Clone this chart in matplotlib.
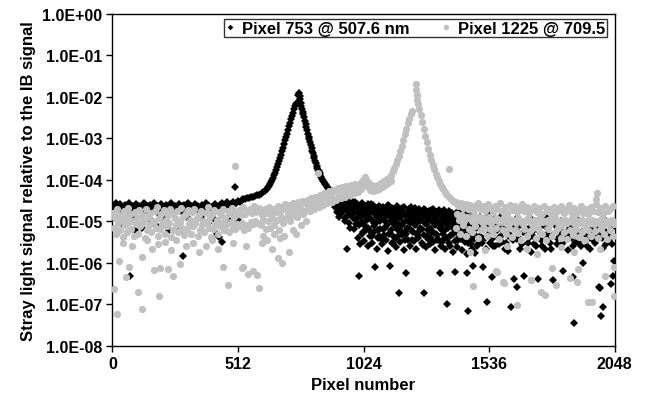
import numpy as np
import matplotlib
matplotlib.use('Agg')
import matplotlib.pyplot as plt
from matplotlib.ticker import FixedLocator, FuncFormatter

plt.rcParams['font.family'] = ['Liberation Sans', 'DejaVu Sans']
plt.rcParams['font.weight'] = 'bold'

# ---- Pixel 753 @ 507.6 nm (black diamonds): (pixel, signal)
black_base = [
    (0, 2.4e-5), (6, 2.0e-5), (13, 2.7e-5), (19, 1.9e-5), (26, 2.3e-5), (33, 2.6e-5), (40, 1.8e-5),
    (47, 2.2e-5), (53, 2.5e-5), (60, 2.0e-5), (67, 2.8e-5), (74, 1.9e-5), (81, 2.3e-5), (88, 2.1e-5),
    (95, 2.6e-5), (102, 1.8e-5), (110, 2.4e-5), (117, 2.2e-5), (124, 2.0e-5), (131, 2.7e-5), (139, 1.9e-5),
    (146, 2.3e-5), (153, 2.5e-5), (160, 2.1e-5), (168, 2.8e-5), (175, 2.0e-5), (182, 2.4e-5), (190, 1.8e-5),
    (197, 2.6e-5), (204, 2.2e-5), (212, 2.0e-5), (219, 2.5e-5), (226, 2.3e-5), (234, 1.9e-5), (241, 2.7e-5),
    (248, 2.1e-5), (256, 2.4e-5), (263, 2.0e-5), (270, 2.6e-5), (278, 1.8e-5), (285, 2.3e-5), (292, 2.5e-5),
    (300, 2.1e-5), (307, 2.7e-5), (314, 1.9e-5), (322, 2.4e-5), (329, 2.2e-5), (336, 2.6e-5), (344, 2.0e-5),
    (351, 2.3e-5), (358, 1.8e-5), (366, 2.5e-5), (373, 2.1e-5), (380, 2.7e-5), (388, 2.0e-5), (395, 2.4e-5),
    (402, 2.2e-5), (410, 1.9e-5), (417, 2.6e-5), (424, 2.3e-5), (432, 2.0e-5), (439, 2.5e-5), (446, 2.8e-5),
    (454, 2.1e-5), (461, 2.4e-5), (468, 2.9e-5), (476, 2.2e-5), (483, 2.6e-5), (490, 3.0e-5), (498, 2.5e-5),
    (505, 2.8e-5), (512, 3.1e-5), (520, 2.9e-5), (527, 3.3e-5),
    (10, 1.3e-5), (35, 9e-6), (58, 1.5e-5), (72, 4.9e-7), (90, 1.1e-5), (92, 6e-6), (120, 7e-6),
    (150, 1.2e-5), (178, 8e-6), (194, 1.4e-5), (205, 1.3e-5), (232, 6e-6), (266, 6.3e-6), (272, 5.6e-6),
    (289, 1.45e-6), (300, 1.35e-5), (310, 1.2e-5), (335, 8e-6), (360, 1.3e-5), (390, 9e-6), (420, 1.1e-5),
    (428, 5e-6), (436, 4.2e-6), (446, 3.2e-6), (470, 1.2e-5), (495, 1.5e-5), (501, 6.7e-5), (515, 1.0e-5),
]

black_peak = [
    (534, 3.4e-5), (542, 3.5e-5), (550, 3.6e-5), (558, 3.7e-5), (566, 3.8e-5), (574, 3.9e-5), (582, 4.1e-5),
    (590, 4.2e-5), (598, 4.3e-5), (606, 4.6e-5), (614, 5.0e-5), (622, 5.5e-5), (630, 6.0e-5), (636, 6.6e-5),
    (640, 7.1e-5), (644, 7.9e-5), (648, 8.9e-5), (652, 1.0e-4), (656, 1.12e-4), (660, 1.3e-4), (664, 1.5e-4),
    (668, 1.75e-4), (672, 2.0e-4), (676, 2.4e-4), (680, 2.8e-4), (684, 3.3e-4), (688, 4.0e-4), (692, 4.9e-4),
    (696, 6.0e-4), (700, 7.3e-4), (704, 8.9e-4), (708, 1.08e-3), (712, 1.3e-3), (716, 1.6e-3), (720, 2.0e-3),
    (724, 2.4e-3), (728, 2.9e-3), (732, 3.5e-3), (736, 4.2e-3), (740, 5.0e-3), (744, 6.0e-3), (748, 6.6e-3),
    (752, 7.2e-3), (758, 1.1e-2), (762, 1.26e-2), (764, 1.05e-2), (766, 8.9e-3), (768, 7.3e-3), (770, 6.0e-3),
    (773, 5.1e-3), (776, 4.4e-3), (779, 3.8e-3), (782, 3.2e-3), (785, 2.6e-3), (788, 2.2e-3), (791, 1.9e-3),
    (794, 1.6e-3), (797, 1.3e-3), (800, 1.1e-3), (803, 9.5e-4), (806, 8.1e-4), (809, 6.9e-4), (812, 5.8e-4),
    (815, 5.1e-4), (818, 4.4e-4), (821, 3.8e-4), (824, 3.3e-4), (827, 2.9e-4), (830, 2.5e-4), (833, 2.2e-4),
    (836, 1.95e-4), (839, 1.75e-4), (842, 1.6e-4), (845, 1.45e-4), (848, 1.3e-4), (852, 1.17e-4),
    (856, 1.05e-4), (860, 9.5e-5), (864, 8.7e-5), (868, 8.0e-5), (872, 7.4e-5), (876, 6.8e-5), (880, 6.3e-5),
    (884, 5.9e-5), (888, 5.5e-5),
]

black_tail = [
    (905, 3.2e-5), (912, 2.6e-5), (918, 3.4e-5), (922, 2.0e-5), (928, 2.8e-5), (932, 1.5e-5), (938, 3.0e-5),
    (942, 2.2e-5), (948, 1.2e-5), (952, 2.7e-5), (955, 2.2e-6), (958, 1.8e-5), (962, 3.1e-5), (966, 9e-6),
    (970, 2.4e-5), (975, 1.4e-5), (980, 2.9e-5), (984, 6.5e-6), (988, 2.1e-5), (992, 1.1e-5), (996, 2.6e-5),
    (1000, 1.6e-5), (1004, 8e-6), (1006, 4.9e-7), (1010, 2.3e-5), (1014, 1.3e-5), (1018, 2.8e-5),
    (1022, 5.5e-6), (1026, 1.9e-5), (1030, 1.0e-5), (1034, 2.4e-5), (1038, 1.5e-5), (1042, 7e-6),
    (1046, 2.2e-5), (1050, 1.2e-5), (1054, 2.6e-5), (1058, 4.5e-6), (1062, 1.7e-5), (1066, 9e-6),
    (1071, 8e-7), (1074, 2.1e-5), (1078, 1.3e-5), (1082, 6e-6), (1086, 2.4e-5), (1090, 1.0e-5),
    (1094, 1.8e-5), (1098, 3.5e-6), (1102, 2.2e-5), (1106, 1.1e-5), (1110, 7e-6), (1114, 1.9e-5),
    (1118, 1.4e-5), (1122, 2.5e-5), (1126, 5e-6), (1130, 1.6e-5), (1132, 8.5e-7), (1136, 1.0e-5),
    (1140, 2.1e-5), (1144, 3e-6), (1148, 1.3e-5), (1152, 7.5e-6), (1156, 1.8e-5), (1160, 2.3e-5),
    (1164, 4.5e-6), (1169, 1.9e-7), (1172, 1.2e-5), (1176, 1.9e-5), (1180, 8e-6), (1184, 1.5e-5),
    (1188, 2.2e-5), (1192, 5.5e-6), (1196, 5.6e-7), (1200, 1.1e-5), (1204, 1.7e-5), (1208, 2.0e-5),
    (1212, 6.5e-6), (1216, 1.3e-5), (1220, 3.5e-6), (1224, 1.8e-5), (1228, 9e-6), (1232, 2.1e-5),
    (1236, 1.4e-5), (1240, 5e-6), (1244, 1.6e-5), (1248, 1.0e-5), (1252, 2.0e-5), (1256, 7e-6),
    (1260, 1.2e-5), (1264, 1.7e-5), (1268, 2.7e-6), (1271, 1.9e-7), (1274, 1.9e-5), (1278, 8.5e-6),
    (1282, 1.3e-5), (1286, 6e-6), (1290, 1.8e-5), (1294, 1.1e-5), (1298, 4e-6), (1302, 1.5e-5),
    (1306, 2.0e-5), (1310, 9e-6), (1314, 1.2e-5), (1318, 5e-6), (1322, 1.7e-5), (1326, 1.0e-5),
    (1330, 1.9e-5), (1334, 7e-6), (1336, 5.6e-7), (1340, 1.4e-5), (1344, 3.2e-6), (1348, 1.1e-5),
    (1352, 1.6e-5), (1356, 6e-6), (1360, 1.3e-5), (1365, 1.0e-7), (1368, 8e-6), (1372, 1.8e-5),
    (1376, 4.5e-6), (1380, 1.2e-5), (1384, 1.5e-5), (1388, 7e-6), (1392, 1.0e-5), (1397, 5.9e-7),
    (1400, 1.4e-5), (1405, 5.5e-6), (1410, 9e-6), (1415, 1.6e-5), (1420, 3.8e-6), (1425, 1.1e-5),
    (1430, 7e-6), (1435, 1.3e-5), (1440, 5e-6), (1445, 5.6e-7), (1450, 6.9e-8), (1452, 9e-6),
    (1458, 1.2e-5), (1462, 2.8e-6), (1469, 8.5e-7), (1472, 6.5e-6), (1478, 1.0e-5), (1484, 4.5e-6),
    (1490, 8e-6), (1496, 3.5e-6), (1502, 6e-6), (1510, 8.1e-7), (1514, 9e-6), (1520, 4e-6), (1527, 1.15e-7),
    (1532, 7e-6), (1538, 3e-6), (1544, 5e-6), (1549, 4.5e-7), (1556, 8e-6), (1562, 2.5e-6), (1568, 6e-6),
    (1575, 4e-6), (1582, 9e-6), (1588, 3.2e-6), (1595, 5.5e-6), (1602, 2.2e-6), (1608, 7e-6), (1615, 4.5e-6),
    (1620, 1.0e-5), (1625, 8.5e-8), (1632, 3.5e-6), (1639, 4.1e-7), (1645, 6e-6), (1651, 2.6e-7),
    (1656, 4e-6), (1663, 8e-6), (1670, 2.8e-6), (1680, 4.9e-7), (1686, 5e-6), (1693, 3e-6), (1700, 7e-6),
    (1707, 1.8e-6), (1714, 4.5e-6), (1721, 6e-6), (1728, 2.5e-6), (1737, 4.1e-7), (1742, 5.5e-6),
    (1749, 3.5e-6), (1756, 8e-6), (1763, 2.2e-6), (1770, 4e-6), (1777, 6.5e-6), (1784, 3e-6),
    (1795, 3.8e-7), (1800, 5e-6), (1807, 7.5e-6), (1814, 2.8e-6), (1821, 4.5e-6), (1828, 6e-6),
    (1839, 6.5e-7), (1845, 3.5e-6), (1852, 5.5e-6), (1859, 2e-6), (1866, 7e-6), (1872, 4e-6),
    (1879, 4.5e-7), (1883, 3.5e-8), (1888, 3e-6), (1895, 6e-6), (1902, 4.5e-6), (1909, 2.5e-6),
    (1920, 1.0e-6), (1926, 5e-6), (1933, 3.5e-6), (1940, 7e-6), (1947, 2.2e-6), (1954, 4.5e-6),
    (1961, 6e-6), (1968, 3e-6), (1975, 8e-6), (1985, 2.6e-7), (1988, 2.5e-7), (1991, 5.2e-8),
    (1995, 4e-6), (2002, 8.5e-8), (2006, 6e-6), (2013, 2.8e-6), (2020, 5e-6), (2026, 3.5e-6),
    (2032, 3.1e-7), (2036, 7e-6), (2042, 4.9e-7), (2046, 1.1e-6),
    (1410, 1.8e-5), (1440, 1.5e-5), (1470, 1.7e-5), (1500, 1.3e-5), (1530, 1.5e-5), (1560, 1.2e-5),
    (1590, 1.4e-5), (1650, 1.2e-5), (1710, 1.1e-5), (1770, 1.3e-5), (1830, 1.0e-5), (1890, 1.2e-5),
    (1950, 9.5e-6), (2010, 1.1e-5), (2040, 1.0e-5),
]

black_cloud = [
    (908, 2.2e-5), (914, 1.7e-5), (920, 2.5e-5), (926, 1.3e-5), (934, 2.3e-5), (940, 1.8e-5), (946, 3.3e-5),
    (950, 1.0e-5), (956, 2.0e-5), (960, 1.4e-5), (964, 2.5e-5), (968, 7e-6), (973, 1.9e-5), (978, 2.2e-5),
    (982, 1.2e-5), (986, 1.6e-5), (990, 3.0e-5), (994, 8.5e-6), (998, 2.0e-5), (1002, 1.3e-5), (1008, 1.7e-5),
    (1012, 9e-6), (1016, 2.0e-5), (1020, 1.5e-5), (1024, 2.4e-5), (1028, 8e-6), (1032, 1.4e-5), (1036, 1.9e-5),
    (1040, 1.1e-5), (1044, 2.6e-5), (1048, 6e-6), (1052, 1.6e-5), (1056, 2.0e-5), (1060, 1.1e-5),
    (1064, 2.5e-5), (1068, 7.5e-6), (1072, 1.5e-5), (1076, 1.8e-5), (1080, 9.5e-6), (1084, 1.4e-5),
    (1088, 4.5e-6), (1092, 2.2e-5), (1096, 1.2e-5), (1100, 1.6e-5), (1104, 6.5e-6), (1108, 2.0e-5),
    (1112, 1.0e-5), (1116, 1.4e-5), (1120, 8e-6), (1124, 1.8e-5), (1128, 2.3e-5), (1134, 1.2e-5),
    (1138, 6e-6), (1142, 1.6e-5), (1146, 9e-6), (1150, 2.0e-5), (1154, 1.1e-5), (1158, 4e-6), (1162, 1.5e-5),
    (1166, 8.5e-6), (1170, 1.9e-5), (1174, 6e-6), (1178, 1.3e-5), (1182, 2.1e-5), (1186, 9e-6),
    (1190, 1.6e-5), (1194, 3.5e-6), (1198, 1.4e-5), (1202, 7e-6), (1206, 1.2e-5), (1210, 1.8e-5),
    (1214, 9e-6), (1218, 2.2e-5), (1222, 1.1e-5), (1226, 5.5e-6), (1230, 1.5e-5), (1234, 8e-6),
    (1238, 1.9e-5), (1242, 1.2e-5), (1246, 4e-6), (1250, 1.4e-5), (1254, 1.0e-5), (1258, 1.7e-5),
    (1262, 6.5e-6), (1266, 1.3e-5), (1270, 2.0e-5), (1276, 9e-6), (1280, 1.6e-5), (1284, 4.5e-6),
    (1288, 1.1e-5), (1292, 1.4e-5), (1296, 7e-6), (1300, 1.9e-5), (1304, 1.0e-5), (1308, 5.5e-6),
    (1312, 1.5e-5), (1316, 8e-6), (1320, 1.2e-5), (1324, 3.5e-6), (1328, 1.4e-5), (1332, 9.5e-6),
    (1338, 1.7e-5), (1342, 6e-6), (1346, 1.3e-5), (1350, 8.5e-6), (1354, 1.9e-5), (1358, 4e-6),
    (1362, 1.1e-5), (1366, 1.5e-5), (1370, 7e-6), (1374, 1.2e-5), (1378, 2.5e-6), (1382, 9e-6),
    (1386, 1.6e-5), (1390, 5e-6), (1394, 1.3e-5), (1398, 8e-6), (1402, 1.0e-5), (1408, 3.5e-6),
    (1412, 1.2e-5), (1418, 7e-6), (1422, 1.5e-5), (1428, 4.5e-6), (1432, 9e-6), (1438, 6e-6), (1442, 1.1e-5),
    (1448, 3e-6), (1455, 7.5e-6), (1460, 1.0e-5), (1466, 5e-6), (1475, 3.8e-6), (1481, 7e-6), (1487, 2.5e-6),
    (1493, 9e-6), (1499, 4.5e-6), (1506, 3e-6), (1517, 6.5e-6), (1523, 2.2e-6), (1535, 5e-6), (1541, 8e-6),
    (1547, 3.8e-6), (1553, 2.5e-6), (1559, 5.5e-6), (1571, 7.5e-6), (1577, 2.8e-6), (1585, 4.5e-6),
    (1598, 6.5e-6), (1605, 3e-6), (1612, 1.9e-6), (1618, 5e-6), (1636, 7e-6), (1648, 3.8e-6), (1660, 2.2e-6),
    (1674, 5.5e-6), (1697, 4e-6), (1718, 2.8e-6), (1734, 6e-6), (1752, 2.5e-6), (1773, 5e-6), (1790, 2.2e-6),
    (1811, 4e-6), (1835, 2.8e-6), (1856, 4.5e-6), (1876, 2.5e-6), (1898, 3.2e-6), (1915, 5.5e-6),
    (1937, 2.6e-6), (1958, 3.6e-6), (1979, 5e-6), (1999, 2.3e-6), (2017, 4.2e-6), (2038, 2.8e-6),
]

black_low = [
    (1003, 4e-6), (1011, 2.8e-6), (1019, 5e-6), (1027, 3.3e-6), (1035, 6e-6), (1043, 2.5e-6), (1051, 4.5e-6),
    (1059, 3e-6), (1067, 5.5e-6), (1077, 2.2e-6), (1085, 4e-6), (1093, 6.5e-6), (1101, 2.8e-6), (1109, 4.8e-6),
    (1117, 3.5e-6), (1125, 1.9e-6), (1133, 5.2e-6), (1141, 3e-6), (1149, 4.2e-6), (1157, 2.4e-6), (1165, 6e-6),
    (1173, 3.2e-6), (1181, 4.6e-6), (1189, 2e-6), (1197, 5e-6), (1205, 3.6e-6), (1213, 2.6e-6), (1221, 5.8e-6),
    (1229, 3.4e-6), (1237, 2.2e-6), (1245, 4.4e-6), (1253, 6.2e-6), (1261, 3e-6), (1269, 4.8e-6), (1277, 2.4e-6),
    (1285, 3.8e-6), (1293, 2.8e-6), (1301, 5.4e-6), (1309, 3.2e-6), (1317, 2e-6), (1325, 4.6e-6), (1333, 3.6e-6),
    (1341, 2.6e-6), (1349, 5e-6), (1357, 2.2e-6), (1365, 4e-6), (1373, 3e-6), (1381, 4.8e-6), (1389, 1.8e-6),
    (1397, 3.4e-6), (1406, 2.4e-6), (1415, 4.2e-6), (1426, 2e-6), (1436, 3.2e-6), (1446, 1.6e-6), (1457, 3.8e-6),
    (1468, 2.2e-6), (1479, 1.7e-6), (1491, 2.9e-6),
]

# ---- Pixel 1225 @ 709.5 (grey circles)
grey_base = [
    (2, 1.6e-5), (11, 1.2e-5), (20, 2.0e-5), (29, 1.4e-5), (38, 1.1e-5), (47, 1.8e-5), (56, 1.3e-5),
    (65, 2.1e-5), (74, 1.5e-5), (83, 1.0e-5), (92, 1.7e-5), (101, 1.2e-5), (110, 1.9e-5), (119, 1.4e-5),
    (128, 1.1e-5), (137, 2.0e-5), (146, 1.3e-5), (155, 1.6e-5), (164, 1.0e-5), (173, 1.8e-5), (182, 2.2e-5),
    (191, 1.2e-5), (200, 1.5e-5), (209, 1.9e-5), (218, 1.1e-5), (227, 1.4e-5), (236, 2.0e-5), (245, 1.6e-5),
    (254, 1.2e-5), (263, 1.8e-5), (272, 1.0e-5), (281, 2.1e-5), (290, 1.3e-5), (299, 1.5e-5), (308, 1.9e-5),
    (317, 1.1e-5), (326, 1.7e-5), (335, 2.0e-5), (344, 1.2e-5), (353, 1.4e-5), (362, 1.8e-5), (371, 1.0e-5),
    (380, 1.6e-5), (389, 2.2e-5), (398, 1.3e-5), (407, 1.5e-5), (416, 1.9e-5), (425, 1.1e-5), (434, 1.7e-5),
    (443, 1.4e-5), (452, 2.0e-5), (461, 1.2e-5), (470, 1.8e-5), (479, 1.5e-5), (488, 2.1e-5), (497, 1.3e-5),
    (506, 1.6e-5), (515, 1.9e-5), (524, 1.4e-5), (533, 2.2e-5), (542, 1.5e-5), (551, 1.8e-5), (560, 2.0e-5),
    (569, 1.6e-5), (578, 2.3e-5), (587, 1.7e-5), (596, 2.1e-5),
    (6, 7e-6), (15, 5e-6), (24, 9e-6), (33, 6e-6), (42, 4.2e-6), (51, 8e-6), (60, 5.5e-6), (69, 9.5e-6),
    (78, 6.5e-6), (87, 4.5e-6), (96, 8.5e-6), (105, 5e-6), (114, 7.5e-6), (123, 9e-6), (132, 4e-6),
    (141, 6e-6), (150, 8e-6), (159, 5.5e-6), (168, 9.5e-6), (177, 7e-6), (186, 4.5e-6), (195, 6.5e-6),
    (204, 8.5e-6), (213, 5e-6), (222, 7.5e-6), (231, 9e-6), (240, 4.2e-6), (249, 6e-6), (258, 8e-6),
    (267, 5.5e-6), (276, 9.5e-6), (285, 7e-6), (294, 4.8e-6), (303, 6.5e-6), (312, 8.5e-6), (321, 5e-6),
    (330, 7.5e-6), (339, 9e-6), (348, 4.5e-6), (357, 6e-6), (366, 8e-6), (375, 5.5e-6), (384, 9.5e-6),
    (393, 7e-6), (402, 4.2e-6), (411, 6.5e-6), (420, 8.5e-6), (429, 5e-6), (438, 7.5e-6), (447, 9e-6),
    (456, 6e-6), (465, 8e-6), (474, 5.5e-6), (483, 9.5e-6), (492, 7e-6), (501, 6.5e-6), (510, 8.5e-6),
    (519, 7.5e-6), (528, 9e-6), (537, 6e-6), (546, 8e-6), (555, 7e-6), (564, 9.5e-6), (573, 8.5e-6),
    (582, 1.0e-5), (591, 9e-6),
    (8, 2.3e-7), (20, 5.8e-8), (29, 1.1e-6), (45, 3e-6), (55, 4.5e-7), (69, 8e-7), (80, 2.5e-6),
    (106, 1.95e-7), (120, 7.6e-8), (120, 1.4e-6), (140, 3.5e-6), (160, 2.2e-6), (171, 6.8e-7), (185, 2.8e-6),
    (192, 1.55e-7), (194, 7.4e-7), (215, 3.2e-6), (228, 7e-7), (240, 2e-6), (249, 4.9e-7), (260, 3.5e-6),
    (276, 9.3e-7), (300, 2.5e-6), (330, 3e-6), (355, 1.8e-6), (380, 2.6e-6), (405, 3.5e-6), (430, 2.2e-6),
    (453, 7.8e-7), (473, 2.9e-7), (490, 3e-6), (500, 2.2e-4), (527, 7.4e-7), (534, 7.8e-7), (545, 2.5e-6),
    (555, 5.4e-7), (572, 6.5e-7), (589, 5e-7), (599, 2.5e-7), (610, 3e-6),
]

grey_rise = [
    (603, 1.8e-5), (612, 1.4e-5), (621, 2.0e-5), (630, 1.6e-5), (639, 2.2e-5), (648, 1.5e-5), (657, 2.0e-5),
    (666, 1.7e-5), (675, 2.4e-5), (684, 1.8e-5), (693, 2.2e-5), (702, 2.6e-5), (711, 1.9e-5), (720, 2.5e-5),
    (729, 2.1e-5), (738, 2.8e-5), (747, 2.3e-5), (756, 2.9e-5), (765, 2.5e-5), (774, 3.1e-5), (783, 2.7e-5),
    (792, 3.3e-5), (801, 2.9e-5), (810, 3.6e-5), (819, 3.1e-5), (828, 3.8e-5), (837, 3.4e-5), (846, 4.3e-5),
    (855, 3.9e-5), (864, 4.8e-5), (873, 4.4e-5), (882, 5.4e-5), (891, 4.9e-5), (900, 5.8e-5), (909, 5.3e-5),
    (918, 6.3e-5), (927, 5.8e-5), (936, 6.7e-5), (945, 6.1e-5), (954, 7.0e-5), (963, 6.5e-5), (972, 7.4e-5),
    (981, 6.9e-5), (990, 7.8e-5), (999, 7.3e-5), (1008, 8.0e-5),
    (607, 8e-6), (616, 1.1e-5), (625, 6.5e-6), (634, 1.0e-5), (643, 7e-6), (652, 1.2e-5), (661, 8e-6),
    (670, 1.1e-5), (679, 6e-6), (688, 1.3e-5), (697, 9e-6), (706, 1.2e-5), (715, 1.5e-5), (724, 1.0e-5),
    (733, 1.4e-5), (742, 1.7e-5), (751, 1.3e-5), (760, 1.6e-5), (769, 1.9e-5), (778, 1.5e-5), (787, 1.8e-5),
    (796, 2.1e-5), (805, 1.8e-5), (814, 2.2e-5), (823, 2.0e-5), (832, 2.4e-5), (841, 2.2e-5), (850, 2.7e-5),
    (859, 2.5e-5), (868, 2.9e-5), (877, 2.7e-5), (886, 3.2e-5), (895, 3.0e-5), (904, 3.5e-5), (913, 3.3e-5),
    (922, 3.8e-5), (931, 3.6e-5), (940, 4.1e-5), (949, 3.9e-5), (958, 4.5e-5), (967, 4.3e-5), (976, 4.9e-5),
    (985, 4.7e-5), (994, 5.3e-5), (1003, 5.1e-5),
    (615, 4.5e-6), (630, 3.5e-6), (650, 2.1e-6), (660, 5e-6), (677, 1.3e-6), (684, 4e-6), (690, 9.8e-7),
    (700, 4.5e-6), (722, 1.8e-6), (735, 6e-6), (750, 5e-6), (770, 8e-6), (790, 1.0e-5), (840, 1.5e-4),
]

grey_peak = [
    (1012, 8.2e-5), (1018, 9.5e-5), (1024, 1.05e-4), (1030, 1.15e-4), (1036, 1.0e-4), (1042, 8.8e-5),
    (1048, 8.0e-5), (1054, 7.5e-5), (1060, 7.2e-5), (1066, 7.0e-5), (1072, 7.0e-5), (1078, 7.2e-5),
    (1084, 7.6e-5), (1090, 8.0e-5), (1096, 8.5e-5), (1102, 9.0e-5), (1108, 9.5e-5), (1114, 1.0e-4),
    (1120, 1.05e-4), (1126, 1.1e-4), (1132, 1.15e-4), (1138, 1.3e-4), (1144, 1.6e-4), (1150, 1.95e-4),
    (1156, 2.4e-4), (1162, 3.0e-4), (1168, 3.8e-4), (1174, 5.0e-4), (1180, 6.6e-4), (1186, 9.0e-4),
    (1192, 1.25e-3), (1198, 1.7e-3), (1204, 2.3e-3), (1210, 3.0e-3), (1216, 3.8e-3), (1220, 4.5e-3),
    (1015, 6e-5), (1027, 8e-5), (1039, 7.2e-5), (1051, 5.8e-5), (1063, 5.5e-5), (1075, 5.6e-5),
    (1087, 6.0e-5), (1099, 6.8e-5), (1111, 7.5e-5), (1123, 8.3e-5), (1135, 9.5e-5),
    (1236, 2.0e-2), (1238, 1.5e-2), (1240, 1.1e-2), (1244, 8.5e-3), (1248, 6.8e-3), (1252, 5.2e-3),
    (1258, 3.6e-3), (1264, 2.5e-3), (1270, 1.7e-3), (1276, 1.15e-3), (1282, 8.0e-4), (1288, 5.6e-4),
    (1294, 4.0e-4), (1300, 3.0e-4), (1306, 2.3e-4), (1312, 1.8e-4), (1318, 1.4e-4), (1324, 1.15e-4),
    (1330, 9.5e-5), (1336, 8.0e-5), (1342, 6.8e-5), (1348, 6.0e-5), (1355, 5.2e-5), (1362, 4.5e-5),
    (1370, 4.0e-5), (1378, 3.6e-5), (1386, 3.3e-5), (1394, 3.0e-5), (1374, 1.8e-4),
]

grey_tail = [
    (1400, 3.0e-5), (1410, 2.4e-5), (1420, 2.8e-5), (1430, 2.1e-5), (1440, 2.6e-5), (1450, 2.0e-5),
    (1460, 2.5e-5), (1470, 1.9e-5), (1480, 2.4e-5), (1490, 2.8e-5), (1500, 2.0e-5), (1510, 2.3e-5),
    (1520, 1.8e-5), (1530, 2.6e-5), (1540, 2.1e-5), (1550, 1.7e-5), (1560, 2.4e-5), (1570, 2.0e-5),
    (1580, 2.7e-5), (1590, 1.8e-5), (1600, 2.2e-5), (1610, 1.6e-5), (1620, 2.5e-5), (1630, 1.9e-5),
    (1640, 2.3e-5), (1650, 1.7e-5), (1660, 2.1e-5), (1670, 2.6e-5), (1680, 1.8e-5), (1690, 2.2e-5),
    (1700, 1.6e-5), (1710, 2.0e-5), (1720, 2.4e-5), (1730, 1.7e-5), (1740, 2.1e-5), (1750, 1.5e-5),
    (1760, 2.3e-5), (1770, 1.8e-5), (1780, 2.0e-5), (1790, 1.5e-5), (1800, 2.2e-5), (1810, 1.7e-5),
    (1820, 1.9e-5), (1830, 2.4e-5), (1840, 1.6e-5), (1850, 2.0e-5), (1860, 2.5e-5), (1870, 1.7e-5),
    (1880, 2.1e-5), (1890, 1.5e-5), (1900, 1.9e-5), (1910, 2.3e-5), (1920, 1.6e-5), (1930, 2.0e-5),
    (1940, 1.5e-5), (1950, 2.2e-5), (1960, 1.8e-5), (1970, 2.6e-5), (1980, 1.7e-5), (1990, 2.1e-5),
    (2000, 1.6e-5), (2010, 2.3e-5), (2020, 1.8e-5), (2030, 2.0e-5), (2040, 2.4e-5),
    (1405, 1.5e-5), (1415, 1.1e-5), (1425, 1.4e-5), (1435, 1.0e-5), (1445, 1.3e-5), (1455, 1.2e-5),
    (1465, 1.0e-5), (1475, 1.4e-5), (1485, 1.1e-5), (1495, 1.3e-5), (1505, 9.5e-6), (1515, 1.2e-5),
    (1525, 1.0e-5), (1535, 1.3e-5), (1545, 9e-6), (1555, 1.1e-5), (1565, 1.2e-5), (1575, 9.5e-6),
    (1585, 1.1e-5), (1595, 1.3e-5), (1605, 9e-6), (1615, 1.2e-5), (1625, 1.0e-5), (1635, 1.1e-5),
    (1645, 9e-6), (1655, 1.2e-5), (1665, 1.0e-5), (1675, 8.5e-6), (1685, 1.1e-5), (1695, 1.2e-5),
    (1705, 9e-6), (1715, 1.0e-5), (1725, 1.1e-5), (1735, 8.5e-6), (1745, 1.2e-5), (1755, 9.5e-6),
    (1765, 1.0e-5), (1775, 1.1e-5), (1785, 8.5e-6), (1795, 1.0e-5), (1805, 1.2e-5), (1815, 9e-6),
    (1825, 1.0e-5), (1835, 8e-6), (1845, 1.1e-5), (1855, 9e-6), (1865, 1.0e-5), (1875, 1.2e-5),
    (1885, 8.5e-6), (1895, 1.0e-5), (1905, 9e-6), (1915, 1.1e-5), (1925, 8e-6), (1935, 1.0e-5),
    (1945, 9e-6), (1955, 1.1e-5), (1965, 8.5e-6), (1975, 1.0e-5), (1985, 9e-6), (1995, 1.2e-5),
    (2005, 8e-6), (2015, 1.0e-5), (2025, 9e-6), (2035, 1.1e-5), (2045, 8.5e-6),
    (1403, 7e-6), (1416, 5e-6), (1428, 8e-6), (1441, 4.5e-6), (1453, 6.5e-6), (1466, 5.5e-6),
    (1478, 7.5e-6), (1491, 4e-6), (1503, 6e-6), (1516, 7e-6), (1528, 4.5e-6), (1541, 6.5e-6),
    (1553, 5e-6), (1566, 7e-6), (1578, 3.8e-6), (1591, 6e-6), (1603, 5e-6), (1616, 6.8e-6),
    (1628, 4.2e-6), (1641, 6e-6), (1653, 5.2e-6), (1666, 3.5e-6), (1678, 6.5e-6), (1691, 4.5e-6),
    (1703, 5.8e-6), (1716, 7e-6), (1728, 4e-6), (1741, 6e-6), (1753, 5e-6), (1766, 3.5e-6),
    (1778, 6.5e-6), (1791, 4.5e-6), (1803, 5.5e-6), (1816, 6.8e-6), (1828, 4e-6), (1841, 5.5e-6),
    (1853, 3.8e-6), (1866, 6e-6), (1878, 4.8e-6), (1891, 6.5e-6), (1903, 4.2e-6), (1916, 5.5e-6),
    (1928, 3.5e-6), (1941, 6e-6), (1953, 4.5e-6), (1966, 5.8e-6), (1978, 4e-6), (1991, 6.5e-6),
    (2003, 5e-6), (2016, 3.8e-6), (2028, 6e-6), (2041, 4.5e-6),
    (1458, 1.8e-6), (1472, 2.8e-7), (1564, 6.5e-7), (1567, 5.9e-7), (1594, 3.4e-7), (1597, 3.2e-7),
    (1649, 9.5e-8), (1705, 3.8e-7), (1707, 3.9e-7), (1746, 1.95e-7), (1764, 1.7e-7), (1791, 7.4e-7),
    (1807, 2.9e-7), (1866, 4.3e-7), (1893, 3.4e-7), (1900, 7.1e-7), (1940, 1.15e-7), (1954, 1.15e-7),
    (1972, 3.5e-5), (1975, 4.7e-5), (2008, 4.7e-7), (2044, 1.55e-7), (2047, 8.1e-7), (1520, 2e-6),
    (1610, 2.5e-6), (1690, 2.2e-6), (1730, 1.6e-6), (1830, 2.4e-6), (1880, 1.8e-6), (1990, 2.2e-6),
]

y_ticks = [1e-8, 1e-7, 1e-6, 1e-5, 1e-4, 1e-3, 1e-2, 1e-1, 1e0]
x_ticks = [0, 512, 1024, 1536, 2048]

black = np.array(black_base + black_peak + black_tail + black_cloud + black_low)
grey = np.array(grey_base + grey_rise + grey_peak + grey_tail)

fig = plt.figure(figsize=(6.47, 4.02), dpi=100)
ax = fig.add_axes([0.1736, 0.1376, 0.7765, 0.8251])

ax.plot(black[:, 0], black[:, 1], 'D', color='black', ms=3.8, mew=0,
        label='Pixel 753 @ 507.6 nm', zorder=2)
ax.plot(grey[:, 0], grey[:, 1], 'o', color='#c0c0c0', ms=5.2, mew=0,
        label='Pixel 1225 @ 709.5', zorder=3)

ax.set_yscale('log')
ax.set_ylim(1e-8, 1e0)
ax.set_xlim(0, 2048)
ax.yaxis.set_major_locator(FixedLocator(y_ticks))
ax.yaxis.set_minor_locator(FixedLocator([]))
ax.yaxis.set_major_formatter(FuncFormatter(lambda v, p: f'{v:.1E}'))
ax.set_xticks(x_ticks)
ax.tick_params(direction='out', length=4, width=1, labelsize=11.5, colors='black')

for s in ax.spines.values():
    s.set_color('black')
    s.set_linewidth(1)

ax.set_xlabel('Pixel number', fontsize=12, fontweight='bold', labelpad=4)
ax.set_ylabel('Stray light signal relative to the IB signal', fontsize=12, fontweight='bold', labelpad=4)

leg = ax.legend(loc='upper right', ncol=2, fontsize=12, frameon=True, fancybox=False,
                handlelength=0.5, handletextpad=0.5, columnspacing=1.9, borderpad=0.1,
                markerscale=0.75, bbox_to_anchor=(0.985, 0.985), borderaxespad=0)
leg.get_frame().set_edgecolor('black')
leg.get_frame().set_linewidth(1)

fig.savefig('out.png', dpi=100)
